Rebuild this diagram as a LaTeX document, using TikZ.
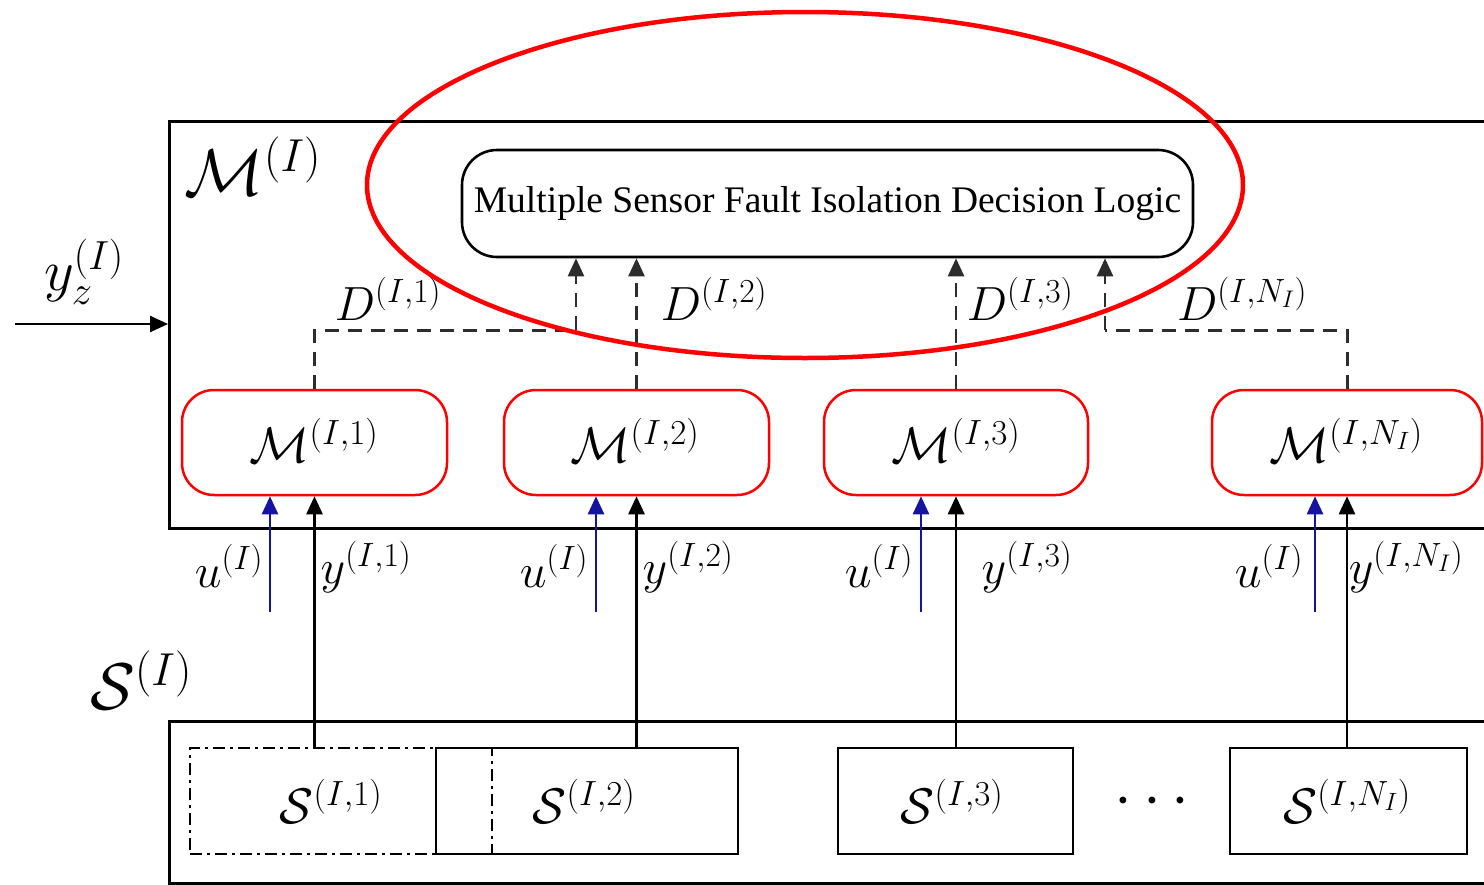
\RequirePackage{fix-cm}
\documentclass[tikz,border=0pt]{standalone}
\usepackage{fontspec}
\setmainfont{Liberation Serif}
\usetikzlibrary{arrows.meta}
\definecolor{navy}{RGB}{20,20,160}
\definecolor{dgray}{RGB}{45,45,45}
\begin{document}
\begin{tikzpicture}[x=1pt,y=-1pt,
  model/.style={draw=red, line width=2.5pt, rounded corners=32pt, minimum height=105pt, inner sep=0pt},
  sens/.style={draw=black, line width=2.6pt, minimum height=106pt, inner sep=0pt},
  dline/.style={draw=dgray, line width=3pt, dash pattern=on 14pt off 9pt},
  arr/.style={-{Triangle[length=18pt,width=16pt]}, line width=2.5pt},
  uarr/.style={arr, draw=navy, fill=navy},
  lab/.style={font=\fontsize{48}{54}\selectfont, inner sep=0pt},
  mlab/.style={font=\fontsize{50}{56}\selectfont, inner sep=0pt},
  big/.style={font=\fontsize{66}{72}\selectfont, inner sep=0pt}]
\useasboundingbox (0,0) rectangle (1484,884);
\clip (0,0) rectangle (1484,884);
\fill[white] (0,0) rectangle (1484,884);
% outer boxes
\node[draw, line width=3pt, minimum width=1340pt, minimum height=407pt, anchor=north west, inner sep=0pt] (mbox) at (168,120) {};
\node[draw, line width=3pt, minimum width=1340pt, minimum height=162pt, anchor=north west, inner sep=0pt] (sbox) at (168,720) {};
\node[big] (mI) at (253,166) {$\mathcal{M}^{(I)}$};
\node[big] (sI) at (141,680) {$\mathcal{S}^{(I)}$};
\node[font=\fontsize{58}{64}\selectfont, inner sep=0pt] (yz) at (84,272) {$y_z^{(I)}$};
\coordinate (yzs) at (15,324);
\draw[arr] (yzs) -- (yzs -| mbox.west);
% decision logic
\node[draw, line width=2.6pt, rounded corners=35pt, minimum width=731pt, minimum height=107pt, inner sep=0pt, font=\fontsize{37.5}{42}\selectfont] (logic) at (827.5,203.5) {Multiple Sensor Fault Isolation Decision Logic};
% models
\node[model, minimum width=265pt] (m1) at (314.5,442.5) {};
\node[model, minimum width=265pt] (m2) at (636.5,442.5) {};
\node[model, minimum width=264pt] (m3) at (956,442.5) {};
\node[model, minimum width=270pt] (mN) at (1347,442.5) {};
\node[mlab] (m1t) at (314,440) {$\mathcal{M}^{(I,1)}$};
\node[mlab] (m2t) at (635,440) {$\mathcal{M}^{(I,2)}$};
\node[mlab] (m3t) at (956,440) {$\mathcal{M}^{(I,3)}$};
\node[mlab] (mNt) at (1346,440) {$\mathcal{M}^{(I,N_I)}$};
% sensors
\node[sens, minimum width=302pt, dash pattern=on 12pt off 5pt on 3pt off 5pt] (s1) at (341,801) {};
\node[sens, minimum width=302pt] (s2) at (587,801) {};
\node[sens, minimum width=235pt] (s3) at (955.5,801) {};
\node[sens, minimum width=237pt] (sN) at (1348.5,801) {};
\node[mlab] (s1t) at (331,801) {$\mathcal{S}^{(I,1)}$};
\node[mlab] (s2t) at (584,801) {$\mathcal{S}^{(I,2)}$};
\node[mlab] (s3t) at (952,801) {$\mathcal{S}^{(I,3)}$};
\node[mlab] (sNt) at (1347,801) {$\mathcal{S}^{(I,N_I)}$};
\node[font=\fontsize{64}{70}\selectfont, inner sep=0pt] (dots) at (1152,802) {$\cdots$};
% measurement arrows
\draw[arr] (m1.south |- s1.north) -- (m1.south);
\draw[arr] (m2.south |- s2.north) -- (m2.south);
\draw[arr] (m3.south |- s3.north) -- (m3.south);
\draw[arr] (mN.south |- sN.north) -- (mN.south);
\coordinate (u1) at (270,612);
\coordinate (u2) at (596,612);
\coordinate (u3) at (921,612);
\coordinate (uN) at (1315,612);
\draw[uarr] (u1) -- (u1 |- m1.south);
\draw[uarr] (u2) -- (u2 |- m2.south);
\draw[uarr] (u3) -- (u3 |- m3.south);
\draw[uarr] (uN) -- (uN |- mN.south);
\node[lab] (ul1) at (229,566) {$u^{(I)}$};
\node[lab] (ul2) at (554,566) {$u^{(I)}$};
\node[lab] (ul3) at (879,566) {$u^{(I)}$};
\node[lab] (ulN) at (1269,566) {$u^{(I)}$};
\node[lab] (yl1) at (366,567) {$y^{(I,1)}$};
\node[lab] (yl2) at (688,567) {$y^{(I,2)}$};
\node[lab] (yl3) at (1027,567) {$y^{(I,3)}$};
\node[lab] (ylN) at (1406,567) {$y^{(I,N_I)}$};
% decision signals
\coordinate (j1) at (576,330);
\coordinate (jN) at (1105,330);
\draw[dline] (m1.north) |- (j1);
\draw[dline, arr] (j1) -- (j1 |- logic.south);
\draw[dline, arr] (m2.north) -- (m2.north |- logic.south);
\draw[dline, arr] (m3.north) -- (m3.north |- logic.south);
\draw[dline] (mN.north) |- (jN);
\draw[dline, arr] (jN) -- (jN |- logic.south);
\node[lab] (d1) at (388,299) {$D^{(I,1)}$};
\node[lab] (d2) at (714,299) {$D^{(I,2)}$};
\node[lab] (d3) at (1020,299) {$D^{(I,3)}$};
\node[lab] (dN) at (1242,299) {$D^{(I,N_I)}$};
% highlight
\draw[red, line width=4.5pt] (805,185) ellipse [x radius=438pt, y radius=173pt];
\end{tikzpicture}
\end{document}
